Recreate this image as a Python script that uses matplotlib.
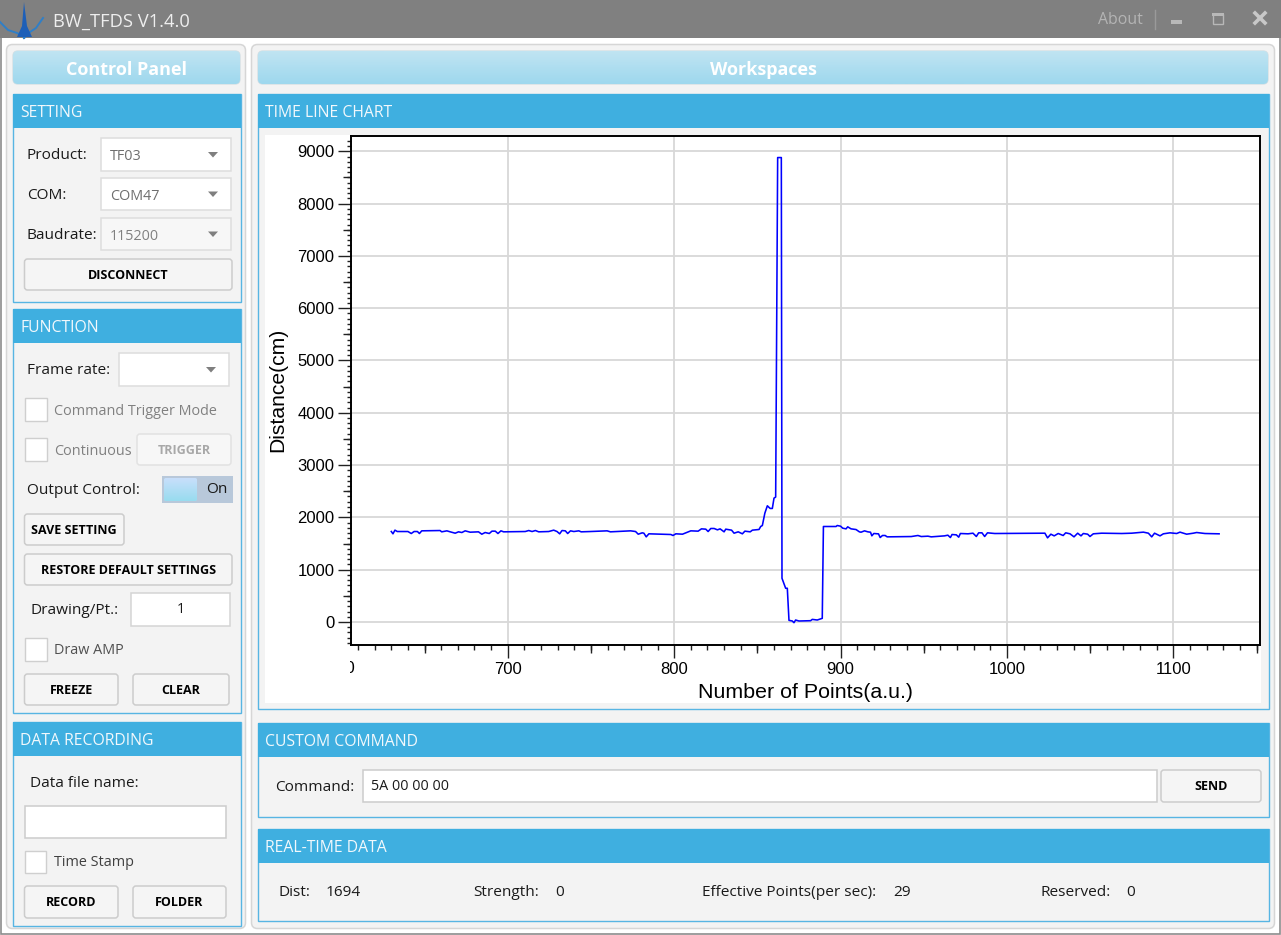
import numpy as np
import matplotlib
matplotlib.use("Agg")
import matplotlib.pyplot as plt
from matplotlib.patches import Rectangle, FancyBboxPatch, Polygon
from matplotlib.ticker import MultipleLocator
from matplotlib.transforms import Bbox

W, H = 1281, 935

# chart data
points_x = [630, 631, 632.2, 633.6, 640, 642, 643.7, 645.7, 646.9, 648.3, 659.3, 660.3, 663.4, 665.4, 668.4,
            670.4, 672.4, 674.4, 677.4, 682.4, 684.4, 686.4, 688.9, 690.5, 692.5, 694.1, 695.9, 697.5, 710.5,
            712.6, 714.6, 716.6, 718.6, 724.6, 727.6, 729.6, 731.2, 732.6, 734.6, 736, 737.7, 739.7, 742.7,
            744.1, 749.7, 759.7, 761.7, 773.8, 776.8, 778.4, 780.8, 781.8, 783.2, 784.8, 792, 798, 799.3,
            801, 805, 807, 810, 814.4, 816.4, 819, 820.4, 822, 824, 826, 827.6, 830, 831, 834.5, 836, 838.5,
            841, 842.5, 845.7, 847, 851, 852, 853, 854.5, 856, 857.7, 859, 860, 861, 862.2, 864.4, 864.8, 867,
            868, 869, 871, 872, 873, 875, 882, 883, 886, 889, 889.7, 897.3, 898, 900, 901.3, 903.3, 904.3,
            906.3, 909.3, 911.3, 912.3, 914.4, 916.4, 918, 918.8, 920, 922.8, 923.8, 925.2, 926.8, 928,
            942.5, 946.5, 948.5, 952.5, 954.5, 962.5, 964.5, 966, 967, 969.6, 971, 972, 976.6, 979.6, 981.6,
            983, 985, 986.6, 988.3, 992.7, 1022.8, 1024.4, 1026.4, 1028.4, 1030.8, 1033.8, 1035.3, 1037.9,
            1040.3, 1042.5, 1044.5, 1045.9, 1048.5, 1049.9, 1051.9, 1056.9, 1069, 1075, 1082, 1085, 1087,
            1088.7, 1092, 1094, 1098, 1102, 1104, 1108, 1112, 1114, 1119, 1127.5]
distance = [1730, 1686, 1756, 1730, 1730, 1692, 1730, 1730, 1692, 1743, 1749, 1724, 1743, 1724, 1698,
            1724, 1711, 1743, 1717, 1724, 1679, 1711, 1692, 1737, 1737, 1692, 1743, 1724, 1730,
            1749, 1730, 1749, 1724, 1730, 1756, 1730, 1686, 1749, 1743, 1692, 1743, 1730, 1743,
            1724, 1730, 1743, 1724, 1743, 1730, 1679, 1705, 1698, 1628, 1686, 1679, 1673, 1654,
            1686, 1679, 1705, 1743, 1737, 1781, 1775, 1730, 1788, 1788, 1762, 1781, 1724, 1775, 1756, 1698, 1724,
            1686, 1737, 1724, 1756, 1769, 1826, 1845, 2081, 2222, 2171, 2171, 2369, 2388, 8880, 8880, 836, 645,
            645, 32, 19, -13, 38, 19, 25, 50, 38, 70, 1826, 1826, 1845, 1832, 1794, 1781, 1820,
            1781, 1768, 1724, 1717, 1743, 1724, 1717, 1647, 1692, 1685, 1615, 1654, 1654, 1628,
            1634, 1654, 1634, 1641, 1628, 1647, 1660, 1615, 1673, 1666, 1622, 1692, 1686, 1698, 1635,
            1705, 1705, 1635, 1705, 1692, 1698, 1609, 1679, 1647, 1692, 1654, 1705, 1686,
            1628, 1698, 1647, 1692, 1679, 1635, 1686, 1698, 1692, 1698, 1718, 1698, 1628,
            1698, 1647, 1686, 1705, 1692, 1718, 1679, 1698, 1711, 1692, 1686]

x_major = [600, 700, 800, 900, 1000, 1100]
y_major = [0, 1000, 2000, 3000, 4000, 5000, 6000, 7000, 8000, 9000]

UI_FONT = "Open Sans"
CHART_FONT = "Liberation Sans"
BLUE = "#3fafe0"
EDGE = "#d0d0d0"
PANEL = "#f3f3f3"
GREY_TEXT = 10.4   # disabled labels run narrower than the black ones


def box(x0, y0, x1, y1, fc="white", ec=EDGE, lw=1.0, r=0, z=2):
    if r:
        p = FancyBboxPatch((x0, y0), x1 - x0, y1 - y0, boxstyle=f"round,pad=0,rounding_size={r}",
                           fc=fc, ec=ec, lw=lw, zorder=z)
    else:
        p = Rectangle((x0, y0), x1 - x0, y1 - y0, fc=fc, ec=ec, lw=lw, zorder=z)
    ui.add_patch(p)
    return p


def label(x, y, s, size=11.1, color="#1a1a1a", ha="left", weight="normal"):
    ui.text(x, y + 1.5, s, fontsize=size, color=color, ha=ha, va="center", family=UI_FONT, weight=weight, zorder=6)


def gradient(x0, y0, x1, y1, top, bottom, clip, z=3):
    c0 = np.array(matplotlib.colors.to_rgb(top))
    c1 = np.array(matplotlib.colors.to_rgb(bottom))
    t = np.linspace(0, 1, 32)[:, None, None]
    im = ui.imshow(c0[None, None, :] * (1 - t) + c1[None, None, :] * t, extent=(x0, x1, y1, y0),
                   aspect="auto", zorder=z, interpolation="bilinear")
    im.set_clip_path(clip)


def button(x0, y0, x1, y1, s, color="black", ec="#cccccc", fc="#f5f5f5"):
    box(x0, y0, x1, y1, fc=fc, ec=ec, lw=1.1, r=3)
    label((x0 + x1) / 2, (y0 + y1) / 2 - 0.5, s, size=9.0, color=color, ha="center", weight="bold")


def combo(x0, y0, x1, y1, s="", fc="white", color="#6e6e6e"):
    box(x0, y0, x1, y1, fc=fc, ec="#dddddd", lw=1.1)
    if s:
        label(x0 + 9, (y0 + y1) / 2 + 0.5, s, size=GREY_TEXT, color=color)
    my = (y0 + y1) / 2
    ui.add_patch(Polygon([(x1 - 23, my - 2.5), (x1 - 13, my - 2.5), (x1 - 18, my + 3)], fc="#7f7f7f", ec="none", zorder=6))


def section(x0, y0, x1, y1, s):
    box(x0, y0, x1, y1, fc=PANEL, ec="#57b5e3", lw=1.0, z=2)
    box(x0, y0, x1, y0 + 34, fc=BLUE, ec="none", z=3)
    label(x0 + 7, y0 + 17.5, s, size=11.3, color="#f2f8fc")


def header(x0, y0, x1, y1, s):
    p = box(x0, y0, x1, y1, fc="#b0dff0", ec="#d4dfe4", lw=1.0, r=5)
    gradient(x0, y0, x1, y1, "#bfe4f2", "#9fd8ee", p)
    label((x0 + x1) / 2, (y0 + y1) / 2 + 1, s, size=13, color="white", ha="center", weight="bold")


fig = plt.figure(figsize=(W / 100, H / 100), dpi=100, facecolor="white")
ui = fig.add_axes([0, 0, 1, 1])
ui.set_axis_off()

# window frame and title bar
box(0.5, 0.5, W - 1, H - 1, fc="white", ec="#8c8c8c", lw=1.2, z=0)
box(0, 0, W, 38, fc="#808080", ec="none", z=1)
ui.plot([0, 8, 17, 23, 24], [22, 30, 33, 36, 38], color="#2f7fc8", lw=1.4, zorder=3)
ui.plot([43, 36, 30, 26, 24], [18, 28, 32, 36, 38], color="#2f7fc8", lw=1.4, zorder=3)
ui.add_patch(Polygon([(24, 2), (27, 26), (32, 37), (17, 37), (22, 26)], fc="#1d5fb8", ec="none", zorder=3))
label(53, 20.5, "BW_TFDS V1.4.0", size=13.2, color="#eeeeee")
label(1098, 18.5, "About", size=11.4, color="#b4b4b4")
ui.plot([1154.5, 1154.5], [10, 29], color="#9a9a9a", lw=1, zorder=3)
box(1171, 20, 1182, 23.5, fc="#b8b8b8", ec="none", z=3)
box(1212.5, 14, 1223, 24, fc="none", ec="#b8b8b8", lw=1, z=3)
box(1212, 13, 1223.5, 16, fc="#b8b8b8", ec="none", z=3)
ui.plot([1255, 1265], [13, 23], color="#c8c8c8", lw=2.6, zorder=3)
ui.plot([1255, 1265], [23, 13], color="#c8c8c8", lw=2.6, zorder=3)

# the two big panels
box(6.5, 44.5, 245.5, 928.5, fc=PANEL, ec="#d6d6d6", lw=1.1, r=6, z=1)
box(251.5, 44.5, 1274.5, 928.5, fc=PANEL, ec="#d6d6d6", lw=1.1, r=6, z=1)
header(13, 51, 240, 84, "Control Panel")
header(258, 51, 1268, 84, "Workspaces")

# setting
section(13, 94, 241, 302, "SETTING")
label(27, 154, "Product:")
label(27, 194, "COM:")
label(27, 234, "Baudrate:")
combo(101, 138, 231, 171, "TF03")
combo(101, 178, 231, 210, "COM47")
combo(101, 218, 231, 250, "115200", fc="#f7f7f7", color="#808080")
button(24.5, 259, 232, 290, "DISCONNECT")

# function
section(13, 309, 241, 713, "FUNCTION")
label(27, 369, "Frame rate:")
combo(118.5, 353, 229, 386)
box(24.5, 398, 46.5, 421, ec="#cfcfcf")
label(54, 410, "Command Trigger Mode", size=GREY_TEXT, color="#808080")
box(24.5, 438, 46.5, 461, ec="#cfcfcf")
label(54, 450, "Continuous", size=GREY_TEXT, color="#808080")
button(137, 434, 231, 465, "TRIGGER", color="#a8a8a8", ec="#e2e2e2", fc="#f7f7f7")
label(27, 489, "Output Control:")
box(162, 476, 233, 503, fc="#b8c8da", ec="none")
thumb = box(164, 478, 197, 501, fc="#b5e0f5", ec="none", r=2, z=3)
gradient(164, 478, 197, 501, "#c8dffb", "#98dcef", thumb, z=4)
label(217, 488, "On", ha="center")
button(24.5, 514, 124, 545, "SAVE SETTING")
button(24.5, 554, 232, 585, "RESTORE DEFAULT SETTINGS")
label(31, 609, "Drawing/Pt.:")
box(131, 593, 230, 626, ec="#d4d4d4", lw=1.1)
label(181, 608, "1", size=GREY_TEXT, ha="center")
box(24.5, 638, 47, 661, ec="#cfcfcf")
label(54, 649.5, "Draw AMP", size=GREY_TEXT, color="#505050")
button(24.5, 674, 118, 705, "FREEZE")
button(133, 674, 229, 705, "CLEAR")

# data recording
section(13, 722, 241, 926, "DATA RECORDING")
label(30, 782, "Data file name:")
box(24.5, 806, 226, 838, ec="#cccccc", lw=1.1)
box(24.5, 851, 46, 873, ec="#cfcfcf")
label(54, 861.5, "Time Stamp", size=GREY_TEXT, color="#404040")
button(24.5, 886, 118, 918, "RECORD")
button(133, 886, 226, 918, "FOLDER")

# workspace sections
section(258, 94, 1268.5, 709, "TIME LINE CHART")
box(265, 135, 1261, 703, fc="white", ec="none", z=3)
section(258, 723, 1268.5, 817, "CUSTOM COMMAND")
label(275, 786, "Command:")
box(363, 770, 1157, 802, ec="#cccccc", lw=1.1)
label(371, 785, "5A 00 00 00", size=GREY_TEXT)
button(1161, 770, 1261, 802, "SEND")
section(258, 829, 1268.5, 921, "REAL-TIME DATA")
for x, s in [(278, "Dist:"), (326, "1694"), (473, "Strength:"), (555, "0"),
             (702, "Effective Points(per sec):"), (893, "29"), (1040, "Reserved:"), (1126, "0")]:
    label(x, 891, s)

ui.set_xlim(0, W)
ui.set_ylim(H, 0)

# the actual chart
left, right, top, bottom = 350.7, 1260.2, 135.7, 644.7
ax = fig.add_axes([left / W, 1 - bottom / H, (right - left) / W, (bottom - top) / H], zorder=5)
ax.plot(points_x, distance, color="#0000ff", lw=1.15, zorder=3, solid_joinstyle="round")
ax.set_xlim(605.6, 1152.2)
ax.set_ylim(-434, 9298)
ax.set_xticks(x_major[1:])
ax.set_yticks(y_major)
ax.xaxis.set_minor_locator(MultipleLocator(10))
ax.yaxis.set_minor_locator(MultipleLocator(100))
ax.grid(True, color="#d8d8d8", lw=1.3, zorder=1)
ax.set_axisbelow(True)
for s in ax.spines.values():
    s.set_linewidth(1.4)
    s.set_color("black")
ax.tick_params(which="major", length=9.5, width=1.0, labelsize=12, pad=2.2, color="#222222")
ax.tick_params(axis="x", which="major", pad=3)
ax.tick_params(axis="x", which="minor", length=3.5, width=1.0, color="#222222")
ax.tick_params(axis="y", which="minor", length=3, width=1.0, color="#222222")
for t in ax.get_xticklabels() + ax.get_yticklabels():
    t.set_family(CHART_FONT)
ax.set_xlabel("Number of Points(a.u.)", fontsize=15.4, family=CHART_FONT, labelpad=4)
ax.set_ylabel("Distance(cm)", fontsize=15.2, family=CHART_FONT, labelpad=7)

# middle ticks every 50
sx = ax.secondary_xaxis("bottom")
sx.set_xticks(np.arange(650, 1151, 100))
sx.tick_params(length=5.5, width=1.0, labelbottom=False, color="#222222")
sx.spines["bottom"].set_visible(False)
sy = ax.secondary_yaxis("left")
sy.set_yticks(np.arange(500, 9001, 1000))
sy.tick_params(length=6, width=1.0, labelleft=False, color="#222222")
sy.spines["left"].set_visible(False)

# the 600 label is cut off by the plot edge in the original
t600 = ax.text(x_major[0], -434 - 16 / 0.0523, str(x_major[0]), fontsize=12, family=CHART_FONT,
               ha="center", va="top", clip_on=True)
t600.set_clip_box(Bbox([[left - 1, 0], [W, H]]))

fig.savefig("out.png", dpi=100, facecolor="white")
